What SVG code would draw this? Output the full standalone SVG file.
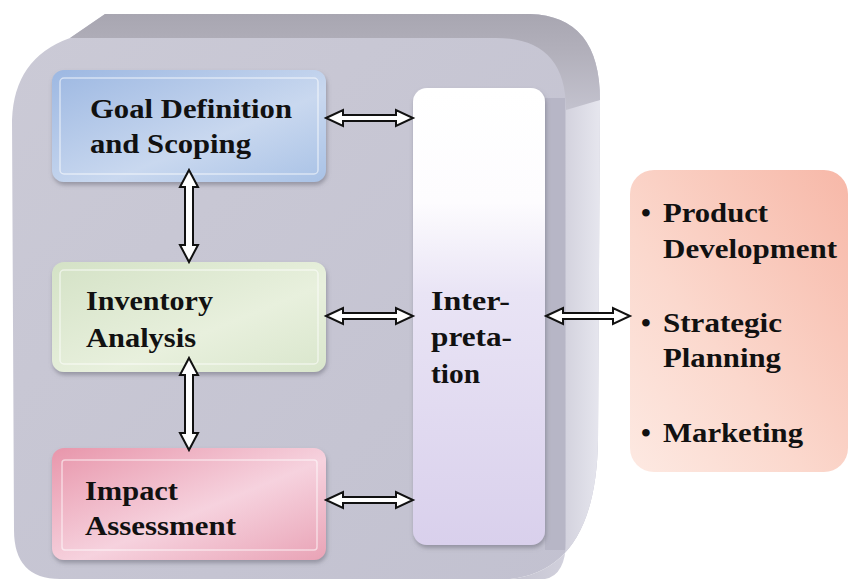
<svg xmlns="http://www.w3.org/2000/svg" width="850" height="581" viewBox="0 0 850 581">
<defs>
  <linearGradient id="gTop" x1="0" y1="0" x2="0" y2="1">
    <stop offset="0" stop-color="#a8a6b1"/>
    <stop offset="0.4" stop-color="#b2b0bb"/>
    <stop offset="1" stop-color="#c3c2ce"/>
  </linearGradient>
  <linearGradient id="gRight" x1="0" y1="0" x2="1" y2="0">
    <stop offset="0" stop-color="#c5c4d1"/>
    <stop offset="0.55" stop-color="#d0cfdb"/>
    <stop offset="1" stop-color="#e6e6ee"/>
  </linearGradient>
  <linearGradient id="gFront" x1="0" y1="0" x2="1" y2="1">
    <stop offset="0" stop-color="#cbcad6"/>
    <stop offset="1" stop-color="#c2c1d0"/>
  </linearGradient>
  <linearGradient id="gGoal" x1="0" y1="0" x2="1" y2="1">
    <stop offset="0" stop-color="#9db8e2"/>
    <stop offset="0.6" stop-color="#c9d8ef"/>
    <stop offset="1" stop-color="#a9c2e6"/>
  </linearGradient>
  <linearGradient id="gInv" x1="0" y1="0" x2="1" y2="1">
    <stop offset="0" stop-color="#d4e2c6"/>
    <stop offset="0.6" stop-color="#e8f0dd"/>
    <stop offset="1" stop-color="#d9e6cc"/>
  </linearGradient>
  <linearGradient id="gImp" x1="0" y1="0" x2="1" y2="1">
    <stop offset="0" stop-color="#e896ab"/>
    <stop offset="0.55" stop-color="#f6d2de"/>
    <stop offset="1" stop-color="#e9a3b6"/>
  </linearGradient>
  <linearGradient id="gInt" x1="0" y1="0" x2="0" y2="1">
    <stop offset="0" stop-color="#ffffff"/>
    <stop offset="0.25" stop-color="#fdfcfe"/>
    <stop offset="0.45" stop-color="#e9e4f5"/>
    <stop offset="1" stop-color="#d9d0ec"/>
  </linearGradient>
  <linearGradient id="gApp" x1="1" y1="0" x2="0" y2="1">
    <stop offset="0" stop-color="#f7b8a8"/>
    <stop offset="0.6" stop-color="#fbd8cd"/>
    <stop offset="1" stop-color="#fde9e2"/>
  </linearGradient>
  <filter id="sh" x="-10%" y="-10%" width="120%" height="130%">
    <feDropShadow dx="1" dy="3" stdDeviation="2" flood-color="#6d6c7a" flood-opacity="0.55"/>
  </filter>
</defs>
<style>
  .t { font-family: 'Liberation Serif', 'Times New Roman', Times, serif; font-weight: 700; font-size: 28px; fill: #111; }
  .inner { fill: none; stroke: #ffffff; stroke-opacity: 0.55; stroke-width: 1.5; }
  .arr { fill: #ffffff; stroke: #111; stroke-width: 2; stroke-linejoin: miter; }
</style>

<g id="container">
  <!-- whole silhouette -->
  <path d="M12 120 Q14 58 70 38 L105 14 L530 14 Q600 16 600 100 L598 440 Q596 570 510 579 L60 579 Q14 579 14 530 Z" fill="url(#gFront)"/>
  <!-- right side band -->
  <path d="M566 105 L600 100 L598 440 Q596 570 510 579 L545 579 Q566 575 566 540 Z" fill="url(#gRight)"/>
  <!-- top bevel band -->
  <path d="M70 38 L105 14 L530 14 Q600 16 600 100 L566 110 Q566 38 496 38 Z" fill="url(#gTop)"/>
  <!-- shadow strip right of interpretation -->
  <rect x="545" y="98" width="20" height="452" fill="#b7b6c6"/>
</g>

<g id="goal">
  <rect x="52" y="70" width="274" height="112" rx="12" fill="url(#gGoal)" filter="url(#sh)"/>
  <rect x="60" y="78" width="258" height="96" rx="4" class="inner"/>
  <text class="t" x="90" y="118" textLength="202" lengthAdjust="spacingAndGlyphs">Goal Definition</text>
  <text class="t" x="90" y="153" textLength="161" lengthAdjust="spacingAndGlyphs">and Scoping</text>
</g>

<g id="inventory">
  <rect x="52" y="262" width="274" height="110" rx="12" fill="url(#gInv)" filter="url(#sh)"/>
  <rect x="60" y="270" width="258" height="94" rx="4" class="inner"/>
  <text class="t" x="86" y="310" textLength="127" lengthAdjust="spacingAndGlyphs">Inventory</text>
  <text class="t" x="86" y="347" textLength="110" lengthAdjust="spacingAndGlyphs">Analysis</text>
</g>

<g id="impact">
  <rect x="52" y="448" width="274" height="112" rx="12" fill="url(#gImp)" filter="url(#sh)"/>
  <rect x="62" y="460" width="255" height="90" rx="3" class="inner" stroke="#c9607a"/>
  <text class="t" x="85" y="500" textLength="93" lengthAdjust="spacingAndGlyphs">Impact</text>
  <text class="t" x="85" y="535" textLength="151" lengthAdjust="spacingAndGlyphs">Assessment</text>
</g>

<g id="interpretation">
  <rect x="413" y="88" width="132" height="457" rx="14" fill="url(#gInt)" filter="url(#sh)"/>
  <text class="t" x="431" y="310" textLength="79" lengthAdjust="spacingAndGlyphs">Inter-</text>
  <text class="t" x="431" y="346" textLength="81" lengthAdjust="spacingAndGlyphs">preta-</text>
  <text class="t" x="431" y="383" textLength="49" lengthAdjust="spacingAndGlyphs">tion</text>
</g>

<g id="applications">
  <rect x="630" y="170" width="218" height="302" rx="24" fill="url(#gApp)"/>
  <text class="t" x="641" y="222">•</text>
  <text class="t" x="663" y="222" textLength="105" lengthAdjust="spacingAndGlyphs">Product</text>
  <text class="t" x="663" y="258" textLength="174" lengthAdjust="spacingAndGlyphs">Development</text>
  <text class="t" x="641" y="332">•</text>
  <text class="t" x="663" y="332" textLength="119" lengthAdjust="spacingAndGlyphs">Strategic</text>
  <text class="t" x="663" y="367" textLength="118" lengthAdjust="spacingAndGlyphs">Planning</text>
  <text class="t" x="641" y="442">•</text>
  <text class="t" x="663" y="442" textLength="140" lengthAdjust="spacingAndGlyphs">Marketing</text>
</g>

<g id="connectors">
  <path class="arr" d="M326 118 L343 110 L343 115 L396 115 L396 110 L413 118 L396 126 L396 121 L343 121 L343 126 Z"/>
  <path class="arr" d="M326 316 L343 308 L343 313 L396 313 L396 308 L413 316 L396 324 L396 319 L343 319 L343 324 Z"/>
  <path class="arr" d="M326 500 L343 492 L343 497 L396 497 L396 492 L413 500 L396 508 L396 503 L343 503 L343 508 Z"/>
  <path class="arr" d="M546 316 L563 308 L563 313 L613 313 L613 308 L630 316 L613 324 L613 319 L563 319 L563 324 Z"/>
  <path class="arr" d="M189 170 L198 187 L193 187 L193 245 L198 245 L189 262 L180 245 L185 245 L185 187 L180 187 Z"/>
  <path class="arr" d="M189 358 L198 375 L193 375 L193 433 L198 433 L189 450 L180 433 L185 433 L185 375 L180 375 Z"/>
</g>
</svg>
